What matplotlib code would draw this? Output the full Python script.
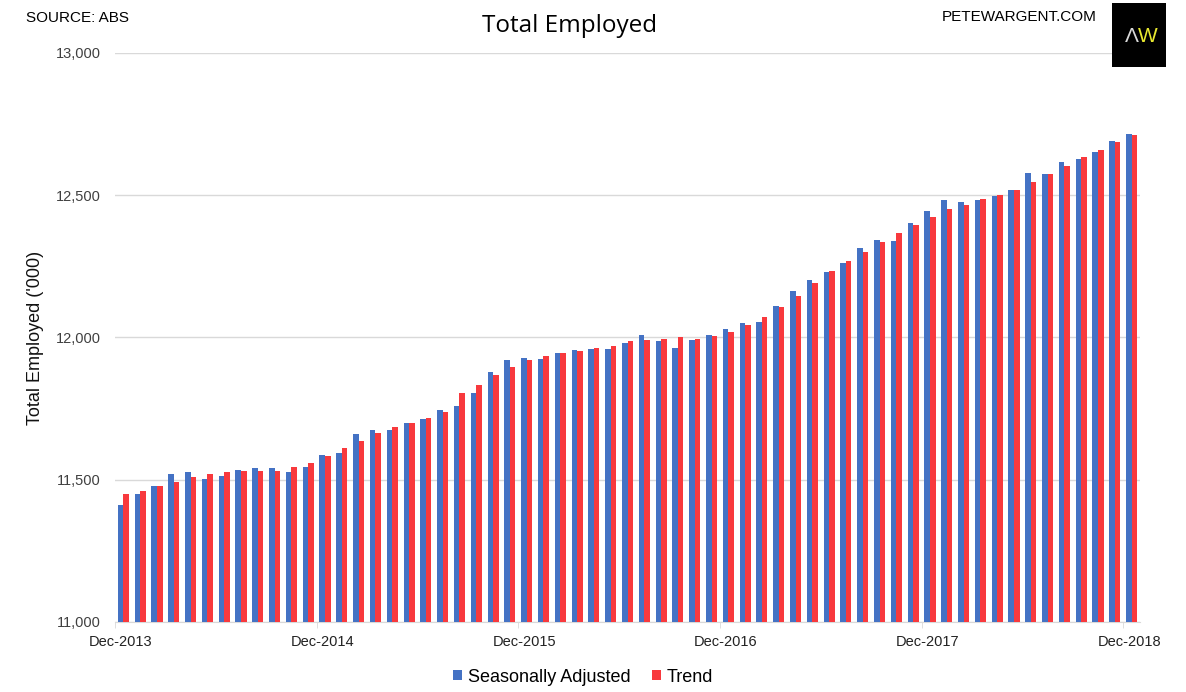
import matplotlib.pyplot as plt
import numpy as np
from matplotlib.patches import Rectangle

plt.rcParams['font.family'] = ['Liberation Sans', 'DejaVu Sans']

# monthly, Dec-2013 .. Dec-2018 ('000 persons)
seasonally_adjusted = [
    11411, 11450, 11478, 11520, 11527, 11503, 11513, 11534, 11541, 11541, 11527, 11545,
    11587, 11594, 11661, 11675, 11675, 11700, 11714, 11745, 11759, 11805, 11879, 11921,
    11928, 11924, 11945, 11956, 11960, 11960, 11981, 12009, 11988, 11963, 11991, 12009,
    12030, 12051, 12054, 12111, 12163, 12202, 12230, 12262, 12315, 12343, 12339, 12403,
    12444, 12484, 12477, 12484, 12497, 12517, 12578, 12575, 12616, 12627, 12652, 12692,
    12714,
]
trend = [
    11450, 11460, 11478, 11492, 11510, 11520, 11527, 11530, 11530, 11530, 11545, 11560,
    11584, 11612, 11636, 11665, 11685, 11700, 11717, 11738, 11805, 11833, 11868, 11896,
    11921, 11935, 11945, 11953, 11963, 11970, 11988, 11991, 11995, 12002, 11995, 12005,
    12019, 12044, 12072, 12107, 12146, 12192, 12234, 12269, 12301, 12336, 12367, 12397,
    12425, 12452, 12467, 12487, 12501, 12520, 12547, 12575, 12603, 12635, 12660, 12686,
    12712,
]
tick_labels = ['Dec-2013', 'Dec-2014', 'Dec-2015', 'Dec-2016', 'Dec-2017', 'Dec-2018']

W, H = 1186, 692
fig = plt.figure(figsize=(W / 100, H / 100), dpi=100)
ax = fig.add_axes([115 / W, 1 - 622 / H, (1140 - 115) / W, (622 - 53) / H])

x = np.arange(len(seasonally_adjusted))
bw = 0.33
ax.bar(x - bw / 2, seasonally_adjusted, width=bw, color='#4472C4', label='Seasonally Adjusted', zorder=3)
ax.bar(x + bw / 2, trend, width=bw, color='#F8393D', label='Trend', zorder=3)

ax.set_ylim(11000, 13000)
ax.set_xlim(-0.5, len(x) - 0.5)
ax.set_yticks(np.arange(11000, 13001, 500))
ax.set_yticklabels([f'{v:,}' for v in range(11000, 13001, 500)], fontsize=10.5, color='#404040')
ax.yaxis.grid(True, color='#D9D9D9', linewidth=1, zorder=0)
ax.tick_params(axis='y', length=0, pad=10)

# tick marks sit between months, labels a little to the right of them
year_idx = np.arange(0, len(x), 12)
ax.set_xticks(year_idx - 0.5, minor=True)
ax.set_xticks(year_idx - 0.15)
ax.set_xticklabels(tick_labels, fontsize=10.5, color='#222222')
ax.tick_params(axis='x', which='major', length=0, pad=9)
ax.tick_params(axis='x', which='minor', length=4, color='#D9D9D9')

for s in ['top', 'right', 'left']:
    ax.spines[s].set_visible(False)
ax.spines['bottom'].set_color('#D9D9D9')

ax.set_ylabel("Total Employed ('000)", fontsize=13, color='#111111', labelpad=9)

fig.text(570 / W, 1 - 26 / H, 'Total Employed', fontsize=17.5, ha='center', va='center',
         family=['Open Sans', 'DejaVu Sans'])
fig.text(26 / W, 1 - 18 / H, 'SOURCE: ABS', fontsize=11, ha='left', va='center')
fig.text(1097 / W, 1 - 17 / H, 'PETEWARGENT.COM', fontsize=11, ha='right', va='center')

fig.patches.append(Rectangle((1112 / W, 1 - 67 / H), 54 / W, 64 / H, transform=fig.transFigure,
                             facecolor='black', edgecolor='none'))
fig.text(1132 / W, 1 - 36 / H, 'Λ', fontsize=15, color='#D8D8D8', ha='center', va='center')
fig.text(1148 / W, 1 - 36 / H, 'W', fontsize=15, color='#E8E830', ha='center', va='center')

ax.legend(loc='center', bbox_to_anchor=(583 / W, 1 - 677 / H), bbox_transform=fig.transFigure,
          ncol=2, frameon=False, fontsize=13, handlelength=0.5, handleheight=0.5,
          handletextpad=0.3, columnspacing=1.2)

fig.savefig('out.png', dpi=100)
